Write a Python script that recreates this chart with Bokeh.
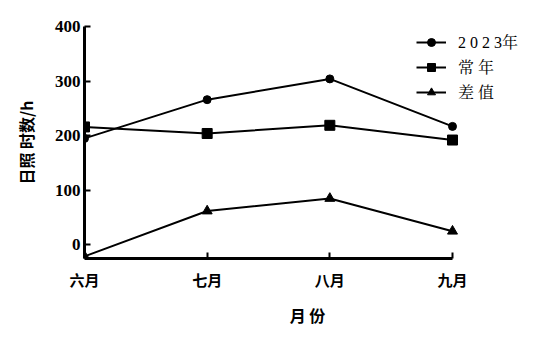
from bokeh.plotting import figure
from bokeh.models import Range1d, FixedTicker, Legend, LegendItem, Title
from bokeh.embed import file_html
from bokeh.resources import INLINE

months = ["六月", "七月", "八月", "九月"]
x_idx = [0, 1, 2, 3]
sun_2023 = [195, 266, 304, 217]
sun_normal = [216, 204, 219, 192]
sun_diff = [-21, 62, 85, 25]
y_ticks = [0, 100, 200, 300, 400]

CJK = "Noto Sans CJK SC"
SERIF = "Liberation Serif"

# frame extends right of the x axis so the legend is not clipped; axis bounded to 0..3
x_end = 3 * 446 / 368
p = figure(width=537, height=344, output_backend="svg", toolbar_location=None,
           x_range=Range1d(0, x_end), y_range=Range1d(-25, 400),
           min_border_left=84, min_border_right=7, min_border_top=26, min_border_bottom=86)
p.outline_line_color = None
p.xgrid.visible = False
p.ygrid.visible = False

r1 = p.line(x_idx, sun_2023, line_color="black", line_width=2)
m1 = p.scatter(x_idx, sun_2023, marker="circle", size=8, color="black")
r2 = p.line(x_idx, sun_normal, line_color="black", line_width=2)
m2 = p.scatter(x_idx, sun_normal, marker="square", size=10, color="black")
r3 = p.line(x_idx, sun_diff, line_color="black", line_width=2)
m3 = p.scatter(x_idx, sun_diff, marker="triangle", size=10, color="black")

for ax in (p.xaxis[0], p.yaxis[0]):
    ax.axis_line_width = 3
    ax.axis_line_color = "black"
    ax.major_tick_line_width = 2
    ax.major_tick_line_color = "black"
    ax.major_tick_in = 6
    ax.major_tick_out = 0
    ax.minor_tick_line_color = None
    ax.major_label_text_color = "black"
    ax.axis_label_text_color = "black"

p.xaxis.bounds = (0, 3)
p.xaxis.ticker = FixedTicker(ticks=x_idx)
p.xaxis.major_label_overrides = {i: m for i, m in zip(x_idx, months)}
p.xaxis.major_label_text_font = CJK
p.xaxis.major_label_text_font_style = "bold"
p.xaxis.major_label_text_font_size = "15px"
p.xaxis.major_label_standoff = 10

# x axis title, centred under the bounded axis (0..3), not under the wider frame
xtitle = Title(text="月 份", align="center", offset=-24, standoff=17,
               text_font=CJK, text_font_style="bold", text_font_size="16px",
               text_color="black")
p.add_layout(xtitle, "below")

p.yaxis.ticker = FixedTicker(ticks=y_ticks)
p.yaxis.major_label_text_font = SERIF
p.yaxis.major_label_text_font_style = "bold"
p.yaxis.major_label_text_font_size = "17px"
p.yaxis.major_label_standoff = 4
p.yaxis.axis_label = "日照 时数/h"
p.yaxis.axis_label_text_font = CJK
p.yaxis.axis_label_text_font_style = "bold"
p.yaxis.axis_label_text_font_size = "16px"
p.yaxis.axis_label_standoff = 14

legend = Legend(items=[
    LegendItem(label="2 0 2 3年", renderers=[r1, m1]),
    LegendItem(label="常 年", renderers=[r2, m2]),
    LegendItem(label="差 值", renderers=[r3, m3]),
], location=(332, 155))
legend.border_line_color = None
legend.background_fill_alpha = 0
legend.padding = 0
legend.margin = 0
legend.spacing = 2
legend.glyph_width = 30
legend.label_standoff = 12
legend.label_text_font = "'Liberation Serif', 'Noto Serif CJK SC', 'Noto Sans CJK SC'"
legend.label_text_font_size = "16px"
legend.label_text_color = "black"
p.add_layout(legend, "center")

with open("out.html", "w") as f:
    f.write(file_html(p, INLINE))
